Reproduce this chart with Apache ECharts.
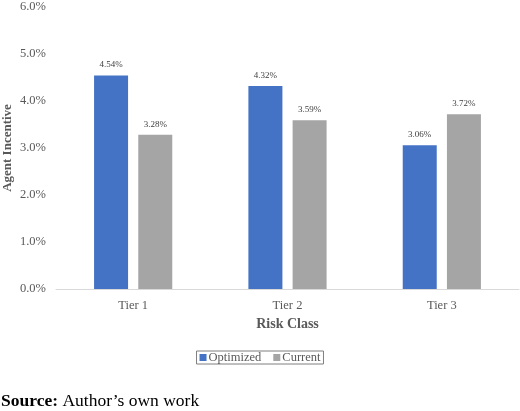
<!DOCTYPE html>
<html>
<head>
<meta charset="utf-8">
<script src="https://cdn.jsdelivr.net/npm/echarts@6/dist/echarts.min.js"></script>
<style>
  html, body { margin: 0; padding: 0; background: #fff; }
  #chart { width: 520px; height: 411px; }
</style>
</head>
<body>
<div id="chart"></div>
<script>
  const categories = ['Tier 1', 'Tier 2', 'Tier 3'];
  const optimized = [4.54, 4.32, 3.06];
  const current = [3.28, 3.59, 3.72];
  const seriesNames = ['Optimized', 'Current'];

  const font = '"Liberation Serif", "Times New Roman", serif';
  const chart = echarts.init(document.getElementById('chart'));

  const labelOption = {
    show: true,
    position: 'top',
    distance: 6,
    fontFamily: font,
    fontSize: 9,
    color: '#404040',
    formatter: p => p.value.toFixed(2) + '%'
  };

  const option = {
    animation: false,
    textStyle: { fontFamily: font },
    grid: { left: 56, right: 1, top: 7, bottom: 122, containLabel: false, outerBoundsMode: 'none' },
    legend: {
      data: seriesNames,
      bottom: 47,
      left: 'center',
      itemWidth: 7,
      itemHeight: 7,
      itemGap: 12,
      padding: [0, 3],
      borderColor: '#7f7f7f',
      borderWidth: 1,
      textStyle: { fontFamily: font, fontSize: 12.5, color: '#595959', padding: [0, 0, 0, -3] },
      icon: 'rect'
    },
    graphic: [{
      type: 'text',
      left: 1,
      top: 392,
      style: {
        rich: {
          b: { fontFamily: font, fontSize: 17.5, fontWeight: 'bold', fill: '#000' },
          n: { fontFamily: font, fontSize: 17.5, fill: '#000' }
        },
        text: '{b|Source:}{n| Author’s own work}'
      }
    }],
    xAxis: {
      type: 'category',
      data: categories,
      name: 'Risk Class',
      nameLocation: 'middle',
      nameGap: 28,
      nameMoveOverlap: false,
      nameTextStyle: { fontFamily: font, fontSize: 14, fontWeight: 'bold', color: '#595959' },
      axisLine: { lineStyle: { color: '#d9d9d9' } },
      axisTick: { show: false },
      axisLabel: { fontFamily: font, fontSize: 12.5, color: '#595959', margin: 10 }
    },
    yAxis: {
      type: 'value',
      min: 0,
      max: 6,
      interval: 1,
      name: 'Agent Incentive',
      nameLocation: 'middle',
      nameGap: 42,
      nameMoveOverlap: false,
      nameTextStyle: { fontFamily: font, fontSize: 13, fontWeight: 'bold', color: '#595959' },
      splitLine: { show: false },
      axisLine: { show: false },
      axisTick: { show: false },
      axisLabel: {
        fontFamily: font, fontSize: 12.5, color: '#595959', margin: 10,
        formatter: v => v.toFixed(1) + '%'
      }
    },
    series: [
      {
        name: seriesNames[0],
        type: 'bar',
        data: optimized,
        barWidth: 34,
        barGap: '30%',
        itemStyle: { color: '#4472c4' },
        label: labelOption
      },
      {
        name: seriesNames[1],
        type: 'bar',
        data: current,
        barWidth: 34,
        itemStyle: { color: '#a5a5a5' },
        label: labelOption
      }
    ]
  };

  chart.setOption(option);
</script>
</body>
</html>
